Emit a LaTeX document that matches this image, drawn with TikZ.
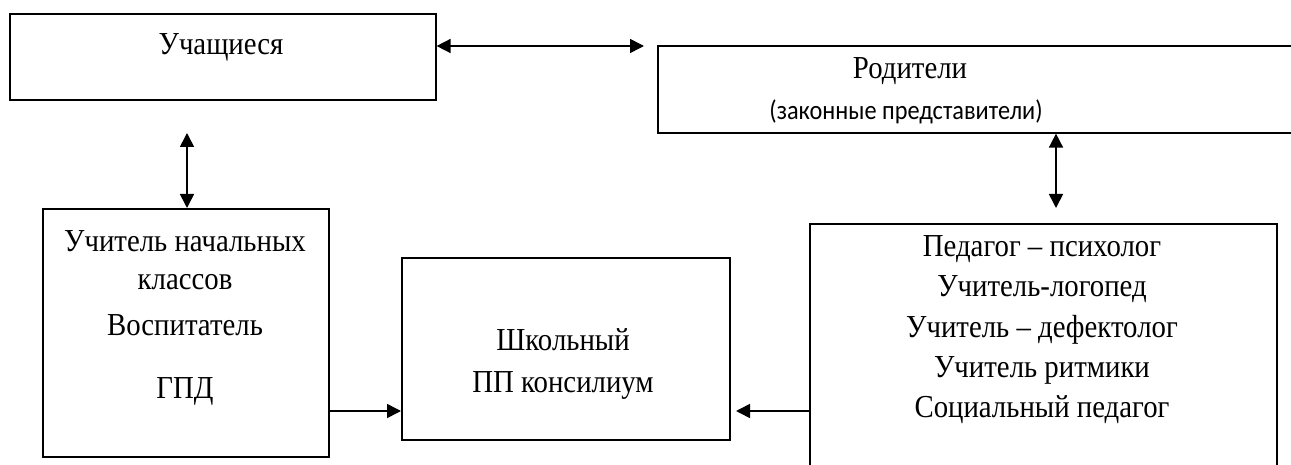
\documentclass[tikz,border=0pt]{standalone}
\usepackage{fontspec}
\setmainfont{Liberation Serif}
\newfontfamily\calib{Carlito}
\usetikzlibrary{arrows.meta,calc}
\begin{document}
\begin{tikzpicture}[x=1pt,y=-1pt,
  box/.style={draw,line width=1.6pt,inner sep=0pt,anchor=north west},
  txt/.style={anchor=base,inner sep=0pt,xscale=0.9,transform shape,font=\fontsize{32}{40}\selectfont},
  stxt/.style={anchor=base,inner sep=0pt,xscale=0.9,transform shape,font=\calib\fontsize{27}{30}\selectfont},
  tip/.tip={Triangle[length=14pt,width=14pt]},
  dbl/.style={line width=1.6pt,tip-tip},
  one/.style={line width=1.6pt,-tip}]
\useasboundingbox (0,0) rectangle (1291,465);
\clip (0,0) rectangle (1291,465);
% boxes
\node[box,minimum width=426pt,minimum height=86pt] (uch) at (9,13) {};
\node[box,minimum width=700pt,minimum height=87pt] (rod) at (657,45) {};
\node[box,minimum width=286pt,minimum height=248pt] (teach) at (42,208) {};
\node[box,minimum width=328pt,minimum height=182pt] (pp) at (401,257) {};
\node[box,minimum width=467pt,minimum height=280pt] (spec) at (809,223) {};
% texts
\node[txt] (t1) at (221,55) {Учащиеся};
\node[txt] (t2) at (910,79) {Родители};
\node[stxt] (t3) at (906,120) {(законные представители)};
\node[txt] (t4) at (185,252) {Учитель начальных};
\node[txt] (t5) at (185,290) {классов};
\node[txt] (t6) at (185,335) {Воспитатель};
\node[txt] (t7) at (185,398) {ГПД};
\node[txt] (t8) at (563,350) {Школьный};
\node[txt] (t9) at (563,392) {ПП консилиум};
\node[txt] (s1) at (1042,257) {Педагог – психолог};
\node[txt] (s2) at (1042,297) {Учитель-логопед};
\node[txt] (s3) at (1042,337) {Учитель – дефектолог};
\node[txt] (s4) at (1042,377) {Учитель ритмики};
\node[txt] (s5) at (1042,417) {Социальный педагог};
% connector ends
\coordinate (c1) at (644,46);
\coordinate (c2) at (187,133);
\coordinate (c3) at (1056,208);
\coordinate (c4) at (736,411);
% connectors
\draw[dbl] (uch.east |- c1) -- (c1);
\draw[dbl] (c2) -- (teach.north -| c2);
\draw[dbl] (rod.south -| c3) -- (c3);
\draw[one] (teach.east |- c4) -- (pp.west |- c4);
\draw[one] (spec.west |- c4) -- (c4);
\end{tikzpicture}
\end{document}
